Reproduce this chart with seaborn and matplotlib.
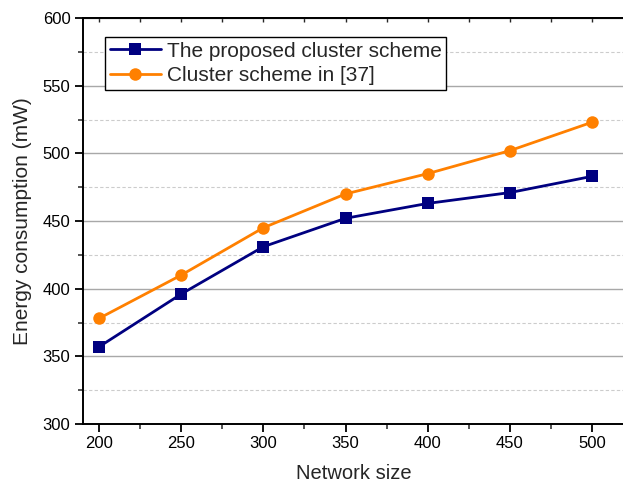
import matplotlib
matplotlib.use("Agg")
import matplotlib.pyplot as plt
import seaborn as sns
import pandas as pd
from matplotlib.ticker import MultipleLocator

network_size = [200, 250, 300, 350, 400, 450, 500]
proposed = [357, 396, 431, 452, 463, 471, 483]
ref37 = [378, 410, 445, 470, 485, 502, 523]
series_names = ["The proposed cluster scheme", "Cluster scheme in [37]"]
colors = ["#000080", "#FF8000"]
markers = ["s", "o"]

df = pd.concat([
    pd.DataFrame({"Network size": network_size, "Energy": proposed, "Series": series_names[0]}),
    pd.DataFrame({"Network size": network_size, "Energy": ref37, "Series": series_names[1]}),
])

sns.set_style("white")
plt.rcParams["font.family"] = ["Liberation Sans", "DejaVu Sans"]

fig = plt.figure(figsize=(6.23, 4.83), dpi=100)
W, H = 623, 483
ax = fig.add_axes([83 / W, 1 - 424 / H, (625 - 83) / W, (424 - 18) / H])

sns.lineplot(data=df, x="Network size", y="Energy", hue="Series", style="Series",
             palette=colors, markers=markers, dashes=False, markersize=9,
             markeredgewidth=0, linewidth=2, ax=ax, legend=True)

ax.set_xlim(190.3, 520)
ax.set_ylim(300, 600)
ax.xaxis.set_major_locator(MultipleLocator(50))
ax.xaxis.set_minor_locator(MultipleLocator(25))
ax.yaxis.set_major_locator(MultipleLocator(50))
ax.yaxis.set_minor_locator(MultipleLocator(25))

ax.grid(True, which="major", axis="y", color="#a8a8a8", linewidth=1.0, linestyle="-")
ax.grid(True, which="minor", axis="y", color="#cccccc", linewidth=0.8, linestyle=(0, (3, 2)))
ax.set_axisbelow(True)

for s in ["left", "bottom", "top"]:
    ax.spines[s].set_visible(True)
    ax.spines[s].set_color("black")
    ax.spines[s].set_linewidth(1.4)
ax.spines["right"].set_visible(False)

ax.tick_params(axis="both", which="major", direction="out", length=6, width=1.3,
               labelsize=12, colors="black", bottom=True, left=True, pad=3)
ax.tick_params(axis="both", which="minor", direction="out", length=3.5, width=1.1,
               bottom=True, left=True)

sec = ax.secondary_xaxis("top")
sec.xaxis.set_major_locator(MultipleLocator(50))
sec.xaxis.set_minor_locator(MultipleLocator(25))
sec.tick_params(which="both", direction="in", length=3, width=1.0, labeltop=False)
sec.spines["top"].set_linewidth(1.4)

ax.set_xlabel("Network size", fontsize=14.5, labelpad=9)
ax.set_ylabel("Energy consumption (mW)", fontsize=15, labelpad=8)

handles, labels = ax.get_legend_handles_labels()
leg = ax.legend(handles, labels, loc="upper left", bbox_to_anchor=(22 / 542, 1 - 19 / 406),
                fontsize=15, frameon=True, fancybox=False, framealpha=1,
                edgecolor="black", handlelength=2.45, handletextpad=0.3,
                borderpad=0.22, labelspacing=0.28, borderaxespad=0)
leg.get_frame().set_linewidth(1.0)

fig.savefig("out.png", dpi=100)
